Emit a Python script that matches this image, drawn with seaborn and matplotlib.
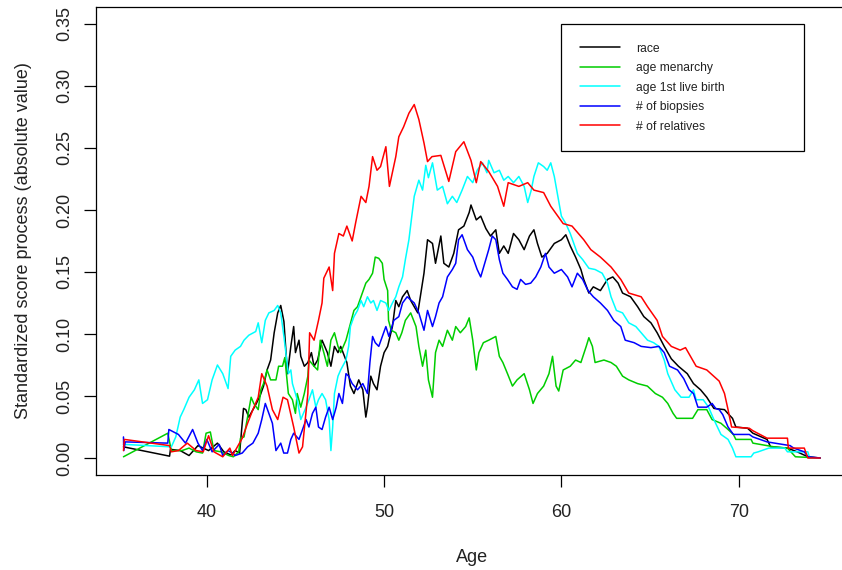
import matplotlib
matplotlib.use("Agg")
import matplotlib.pyplot as plt
import seaborn as sns
import pandas as pd

# ---------------- data (age, |standardized score|) ----------------
race = [(35.3,0.009),(37.9,0.0015),(37.95,0.007),(38.5,0.006),(39.0,0.002),(39.5,0.010),(40.1,0.006),
        (40.6,0.012),(40.96,0.005),(41.35,0.0025),(41.6,0.006),(41.85,0.004),(42.07,0.040),(42.2,0.039),
        (42.37,0.033),(42.76,0.043),(43.0,0.050),(43.2,0.058),(43.4,0.071),(43.6,0.079),(43.8,0.101),
        (44.0,0.117),(44.17,0.123),(44.35,0.110),(44.55,0.068),(44.74,0.090),(44.9,0.106),(45.0,0.085),
        (45.2,0.095),(45.3,0.082),(45.5,0.074),(45.7,0.077),(45.9,0.085),(46.05,0.074),(46.25,0.079),
        (46.5,0.095),(46.8,0.085),(47.0,0.074),(47.2,0.090),(47.4,0.085),(47.55,0.090),(47.9,0.077),
        (48.1,0.058),(48.3,0.052),(48.57,0.063),(48.8,0.055),(48.97,0.033),(49.06,0.041),(49.25,0.066),
        (49.4,0.060),(49.6,0.055),(49.8,0.074),(50.0,0.085),(50.2,0.090),(50.47,0.106),(50.66,0.127),
        (50.83,0.122),(51.04,0.130),(51.3,0.135),(51.5,0.127),(51.9,0.117),(52.25,0.149),(52.45,0.176),
        (52.73,0.173),(52.9,0.157),(53.2,0.179),(53.37,0.157),(53.65,0.154),(53.93,0.165),(54.2,0.184),
        (54.5,0.187),(54.8,0.198),(54.9,0.204),(55.2,0.192),(55.45,0.195),(55.74,0.185),(56.0,0.179),
        (56.3,0.184),(56.5,0.165),(56.75,0.171),(57.0,0.165),(57.3,0.181),(57.6,0.176),(57.9,0.168),
        (58.2,0.179),(58.45,0.184),(58.65,0.173),(58.9,0.162),(59.2,0.165),(59.6,0.173),(60.0,0.176),
        (60.25,0.180),(60.5,0.171),(60.8,0.162),(61.1,0.152),(61.26,0.144),(61.55,0.133),(61.8,0.138),
        (62.2,0.135),(62.6,0.144),(62.9,0.146),(63.2,0.141),(63.45,0.133),(63.9,0.130),(64.3,0.122),
        (64.65,0.114),(65.05,0.109),(65.4,0.101),(65.8,0.090),(66.2,0.080),(66.6,0.074),(67.1,0.068),
        (67.45,0.060),(67.85,0.055),(68.2,0.049),(68.6,0.040),(69.2,0.039),(69.45,0.035),(69.65,0.032),
        (69.84,0.025),(70.5,0.024),(70.8,0.020),(71.6,0.015),(71.8,0.009),(72.75,0.008),(73.3,0.005),
        (73.9,0.001),(74.6,0.0)]

age_menarchy = [(35.3,0.001),(37.8,0.020),(38.0,0.006),(38.6,0.006),(39.0,0.008),(39.4,0.005),(39.76,0.004),
        (39.96,0.020),(40.2,0.021),(40.4,0.006),(40.8,0.005),(41.24,0.002),(41.5,0.001),(41.8,0.005),
        (41.9,0.016),(42.1,0.017),(42.3,0.033),(42.5,0.049),(42.65,0.044),(42.9,0.039),(43.05,0.055),
        (43.2,0.060),(43.4,0.071),(43.6,0.063),(43.9,0.063),(44.05,0.074),(44.27,0.074),(44.4,0.081),
        (44.6,0.052),(44.83,0.047),(45.0,0.036),(45.1,0.052),(45.3,0.041),(45.5,0.052),(45.7,0.066),
        (45.76,0.079),(46.05,0.074),(46.25,0.071),(46.4,0.095),(46.6,0.085),(46.8,0.074),(47.0,0.095),
        (47.2,0.101),(47.4,0.090),(47.55,0.085),(47.85,0.095),(48.0,0.103),(48.2,0.114),(48.3,0.119),
        (48.5,0.122),(48.7,0.130),(48.97,0.141),(49.15,0.144),(49.35,0.149),(49.5,0.162),(49.7,0.161),
        (49.9,0.157),(50.0,0.144),(50.2,0.135),(50.25,0.111),(50.4,0.103),(50.66,0.101),(50.83,0.095),
        (51.0,0.101),(51.2,0.111),(51.5,0.117),(51.8,0.106),(51.96,0.090),(52.17,0.074),(52.35,0.087),
        (52.5,0.063),(52.73,0.049),(52.9,0.085),(53.1,0.095),(53.3,0.090),(53.57,0.103),(53.85,0.095),
        (54.04,0.106),(54.3,0.101),(54.6,0.106),(54.8,0.113),(55.0,0.095),(55.2,0.071),(55.35,0.085),
        (55.6,0.093),(55.9,0.095),(56.3,0.098),(56.5,0.082),(56.7,0.077),(56.96,0.068),(57.24,0.058),
        (57.5,0.063),(57.9,0.068),(58.2,0.055),(58.4,0.044),(58.65,0.052),(59.0,0.058),(59.3,0.068),
        (59.5,0.082),(59.7,0.058),(59.85,0.054),(60.1,0.071),(60.5,0.074),(60.8,0.079),(61.1,0.077),
        (61.4,0.090),(61.55,0.097),(61.75,0.090),(61.9,0.077),(62.4,0.079),(62.8,0.077),(63.1,0.074),
        (63.45,0.066),(63.8,0.063),(64.3,0.060),(64.85,0.058),(65.3,0.052),(65.7,0.049),(66.0,0.044),
        (66.3,0.036),(66.5,0.032),(67.4,0.032),(67.7,0.039),(68.2,0.039),(68.5,0.031),(69.0,0.028),
        (69.4,0.023),(69.7,0.019),(69.84,0.015),(70.7,0.015),(70.8,0.012),(72.0,0.009),(72.75,0.008),
        (73.2,0.001),(74.6,0.0)]

age_first_birth = [(35.3,0.011),(38.0,0.009),(38.25,0.017),(38.5,0.033),(38.7,0.039),(39.0,0.049),(39.3,0.055),
        (39.55,0.063),(39.76,0.044),(40.04,0.047),(40.3,0.063),(40.6,0.075),(40.9,0.068),(41.2,0.056),
        (41.35,0.082),(41.6,0.087),(41.9,0.090),(42.1,0.095),(42.37,0.099),(42.76,0.102),(42.9,0.109),
        (43.1,0.093),(43.3,0.111),(43.5,0.117),(43.8,0.119),(44.0,0.123),(44.17,0.117),(44.35,0.098),
        (44.6,0.068),(44.74,0.071),(44.83,0.060),(45.1,0.047),(45.3,0.031),(45.6,0.041),(45.76,0.047),
        (45.96,0.055),(46.15,0.041),(46.3,0.047),(46.5,0.052),(46.7,0.047),(46.9,0.031),(47.0,0.006),
        (47.1,0.025),(47.2,0.052),(47.4,0.066),(47.55,0.071),(47.85,0.079),(48.0,0.090),(48.1,0.106),
        (48.3,0.114),(48.5,0.119),(48.7,0.127),(48.85,0.122),(49.06,0.130),(49.25,0.125),(49.4,0.127),
        (49.6,0.119),(49.8,0.127),(50.1,0.125),(50.27,0.119),(50.47,0.125),(50.66,0.130),(50.83,0.138),
        (51.04,0.146),(51.2,0.160),(51.4,0.176),(51.7,0.211),(51.96,0.224),(52.17,0.216),(52.35,0.236),
        (52.5,0.226),(52.73,0.238),(53.0,0.216),(53.3,0.219),(53.57,0.205),(53.85,0.211),(54.1,0.206),
        (54.4,0.216),(54.7,0.227),(55.0,0.222),(55.25,0.232),(55.55,0.238),(55.8,0.230),(55.9,0.240),
        (56.2,0.230),(56.5,0.232),(56.75,0.224),(57.0,0.227),(57.3,0.222),(57.6,0.227),(57.9,0.219),
        (58.1,0.206),(58.3,0.216),(58.45,0.227),(58.7,0.238),(59.0,0.235),(59.2,0.232),(59.4,0.238),
        (59.6,0.227),(59.8,0.211),(60.0,0.195),(60.25,0.189),(60.5,0.181),(60.9,0.165),(61.2,0.160),
        (61.55,0.153),(61.9,0.152),(62.3,0.149),(62.6,0.141),(62.8,0.130),(63.1,0.119),(63.45,0.117),
        (63.8,0.109),(64.2,0.106),(64.5,0.101),(64.86,0.095),(65.2,0.093),(65.5,0.090),(65.8,0.079),
        (66.0,0.068),(66.4,0.055),(66.75,0.049),(67.2,0.049),(67.45,0.055),(67.6,0.047),(68.0,0.047),
        (68.3,0.041),(68.6,0.031),(68.8,0.025),(69.0,0.019),(69.4,0.015),(69.65,0.008),(69.84,0.001),
        (70.7,0.001),(70.85,0.004),(71.1,0.005),(71.7,0.008),(72.6,0.008),(72.75,0.005),(73.9,0.005),
        (74.0,0.0),(74.6,0.0)]

n_biopsies = [(35.3,0.017),(35.32,0.006),(35.4,0.013),(37.8,0.012),(37.86,0.023),(38.4,0.019),(38.8,0.012),
        (39.2,0.023),(39.5,0.012),(39.76,0.006),(40.0,0.015),(40.3,0.005),(40.7,0.011),(40.9,0.002),
        (41.2,0.006),(41.45,0.004),(41.6,0.002),(42.0,0.004),(42.3,0.009),(42.6,0.012),(42.9,0.020),
        (43.1,0.031),(43.3,0.044),(43.5,0.036),(43.7,0.028),(43.9,0.006),(44.17,0.012),(44.34,0.004),
        (44.55,0.004),(44.74,0.015),(44.9,0.020),(45.2,0.015),(45.4,0.023),(45.6,0.031),(45.76,0.025),
        (45.96,0.036),(46.15,0.041),(46.3,0.025),(46.5,0.023),(46.7,0.033),(46.9,0.041),(47.1,0.031),
        (47.3,0.041),(47.45,0.052),(47.65,0.044),(47.85,0.068),(48.0,0.066),(48.2,0.060),(48.5,0.055),
        (48.8,0.060),(49.06,0.052),(49.2,0.077),(49.35,0.098),(49.5,0.093),(49.7,0.090),(49.9,0.098),
        (50.1,0.106),(50.27,0.098),(50.55,0.111),(50.83,0.114),(51.04,0.125),(51.3,0.130),(51.7,0.125),
        (51.96,0.117),(52.25,0.103),(52.45,0.119),(52.73,0.106),(52.9,0.114),(53.1,0.125),(53.3,0.130),
        (53.57,0.146),(53.85,0.152),(54.04,0.157),(54.2,0.176),(54.4,0.180),(54.7,0.168),(55.0,0.162),
        (55.25,0.152),(55.45,0.146),(55.74,0.160),(55.9,0.168),(56.1,0.179),(56.3,0.176),(56.5,0.160),
        (56.7,0.149),(56.96,0.144),(57.24,0.138),(57.5,0.136),(57.7,0.144),(57.98,0.140),(58.27,0.141),
        (58.55,0.146),(58.84,0.154),(59.1,0.165),(59.3,0.154),(59.6,0.149),(60.0,0.152),(60.35,0.146),
        (60.6,0.138),(60.9,0.149),(61.2,0.144),(61.5,0.135),(61.8,0.130),(62.2,0.125),(62.6,0.119),
        (62.95,0.111),(63.35,0.106),(63.6,0.095),(64.1,0.093),(64.5,0.090),(65.05,0.089),(65.5,0.090),
        (65.8,0.085),(66.1,0.074),(66.55,0.071),(66.9,0.064),(67.2,0.055),(67.45,0.052),(67.7,0.041),
        (68.2,0.041),(68.5,0.044),(68.7,0.040),(68.9,0.039),(69.1,0.035),(69.4,0.025),(69.7,0.019),
        (70.6,0.019),(70.8,0.017),(71.6,0.013),(72.9,0.010),(73.1,0.008),(73.7,0.005),(73.9,0.001),
        (74.6,0.0)]

n_relatives = [(35.3,0.006),(35.35,0.015),(37.9,0.010),(38.0,0.005),(38.4,0.006),(38.9,0.012),(39.4,0.006),
        (39.8,0.005),(40.1,0.018),(40.4,0.005),(40.9,0.001),(41.3,0.008),(41.45,0.002),(42.0,0.016),
        (42.3,0.028),(42.6,0.039),(42.9,0.049),(43.1,0.068),(43.4,0.058),(43.7,0.039),(44.0,0.031),
        (44.3,0.049),(44.55,0.047),(44.9,0.025),(45.2,0.004),(45.4,0.009),(45.7,0.052),(45.8,0.101),
        (46.05,0.095),(46.3,0.111),(46.5,0.125),(46.6,0.145),(46.9,0.154),(47.1,0.135),(47.2,0.165),
        (47.45,0.181),(47.7,0.179),(47.9,0.187),(48.2,0.175),(48.4,0.190),(48.7,0.211),(48.97,0.206),
        (49.15,0.219),(49.35,0.243),(49.6,0.232),(49.8,0.235),(50.1,0.251),(50.3,0.219),(50.66,0.243),
        (50.83,0.259),(51.1,0.267),(51.4,0.278),(51.7,0.285),(51.96,0.273),(52.25,0.254),(52.45,0.239),
        (52.7,0.243),(53.2,0.244),(53.65,0.223),(54.04,0.247),(54.5,0.255),(54.9,0.240),(55.2,0.222),
        (55.45,0.239),(55.9,0.231),(56.4,0.219),(56.75,0.203),(57.0,0.222),(57.6,0.219),(58.1,0.222),
        (58.45,0.216),(59.0,0.214),(59.4,0.203),(59.8,0.195),(60.1,0.189),(60.6,0.187),(61.26,0.176),
        (61.66,0.168),(62.2,0.162),(62.8,0.154),(63.35,0.144),(63.8,0.133),(64.5,0.130),(64.86,0.122),
        (65.4,0.111),(65.7,0.098),(66.2,0.090),(66.7,0.087),(67.0,0.089),(67.6,0.074),(68.2,0.071),
        (68.9,0.062),(69.2,0.052),(69.4,0.039),(69.6,0.025),(70.6,0.024),(70.8,0.022),(71.6,0.016),
        (72.75,0.016),(72.8,0.008),(73.7,0.008),(73.9,0.0),(74.6,0.0)]

labels = ["race", "age menarchy", "age 1st live birth", "# of biopsies", "# of relatives"]
colors = ["black", "#00CD00", "#00FFFF", "#0000FF", "#FF0000"]
series = [race, age_menarchy, age_first_birth, n_biopsies, n_relatives]

x_ticks = [40, 50, 60, 70]
y_ticks = [0.00, 0.05, 0.10, 0.15, 0.20, 0.25, 0.30, 0.35]
y_ticklabels = ["0.00", "0.05", "0.10", "0.15", "0.20", "0.25", "0.30", "0.35"]

# ---------------- plot ----------------
sns.set_style("ticks")
plt.rcParams['font.family'] = ['Liberation Sans', 'DejaVu Sans']

fig = plt.figure(figsize=(8.42, 5.70), dpi=100)
ax = fig.add_axes([0.1140, 0.1660, 0.8928, 0.8225])

for pts, lab, col in zip(series, labels, colors):
    df = pd.DataFrame(pts, columns=["age", "score"])
    sns.lineplot(data=df, x="age", y="score", color=col, linewidth=1.1,
                 sort=False, estimator=None, ax=ax, label=lab, legend=False)

ax.set_xlim(33.75, 76.15)
ax.set_ylim(-0.014, 0.364)
ax.set_xticks(x_ticks)
ax.set_xticklabels([str(t) for t in x_ticks])
ax.set_yticks(y_ticks)
ax.set_yticklabels(y_ticklabels, rotation=90, va="center")

for s in ax.spines.values():
    s.set_visible(True)
    s.set_color("black")
    s.set_linewidth(0.9)

ax.tick_params(axis="both", direction="out", length=8.6, width=0.9,
               labelsize=13, colors="black", labelcolor="#222222")
ax.tick_params(axis="x", pad=12)
ax.tick_params(axis="y", pad=8)

ax.set_xlabel("Age", fontsize=13, color="#222222")
ax.xaxis.set_label_coords(0.5, -0.176)
ax.xaxis.label.set_va("center")
ax.set_ylabel("Standardized score process (absolute value)", fontsize=13, color="#222222")
ax.yaxis.set_label_coords(-0.096, 0.5)
ax.yaxis.label.set_va("center")

handles = ax.get_lines()[:5]
leg = ax.legend(handles, labels, loc="upper left",
                bbox_to_anchor=(561/842, 1-147/570, 243/842, 123/570),
                bbox_transform=fig.transFigure, mode="expand", borderaxespad=0,
                fontsize=8.7, handlelength=3.3, handletextpad=1.35,
                borderpad=1.55, labelspacing=0.62, frameon=True, fancybox=False,
                framealpha=1, edgecolor="black")
leg.get_frame().set_linewidth(0.9)
for t in leg.get_texts():
    t.set_color("#222222")

fig.savefig("out.png", dpi=100)
